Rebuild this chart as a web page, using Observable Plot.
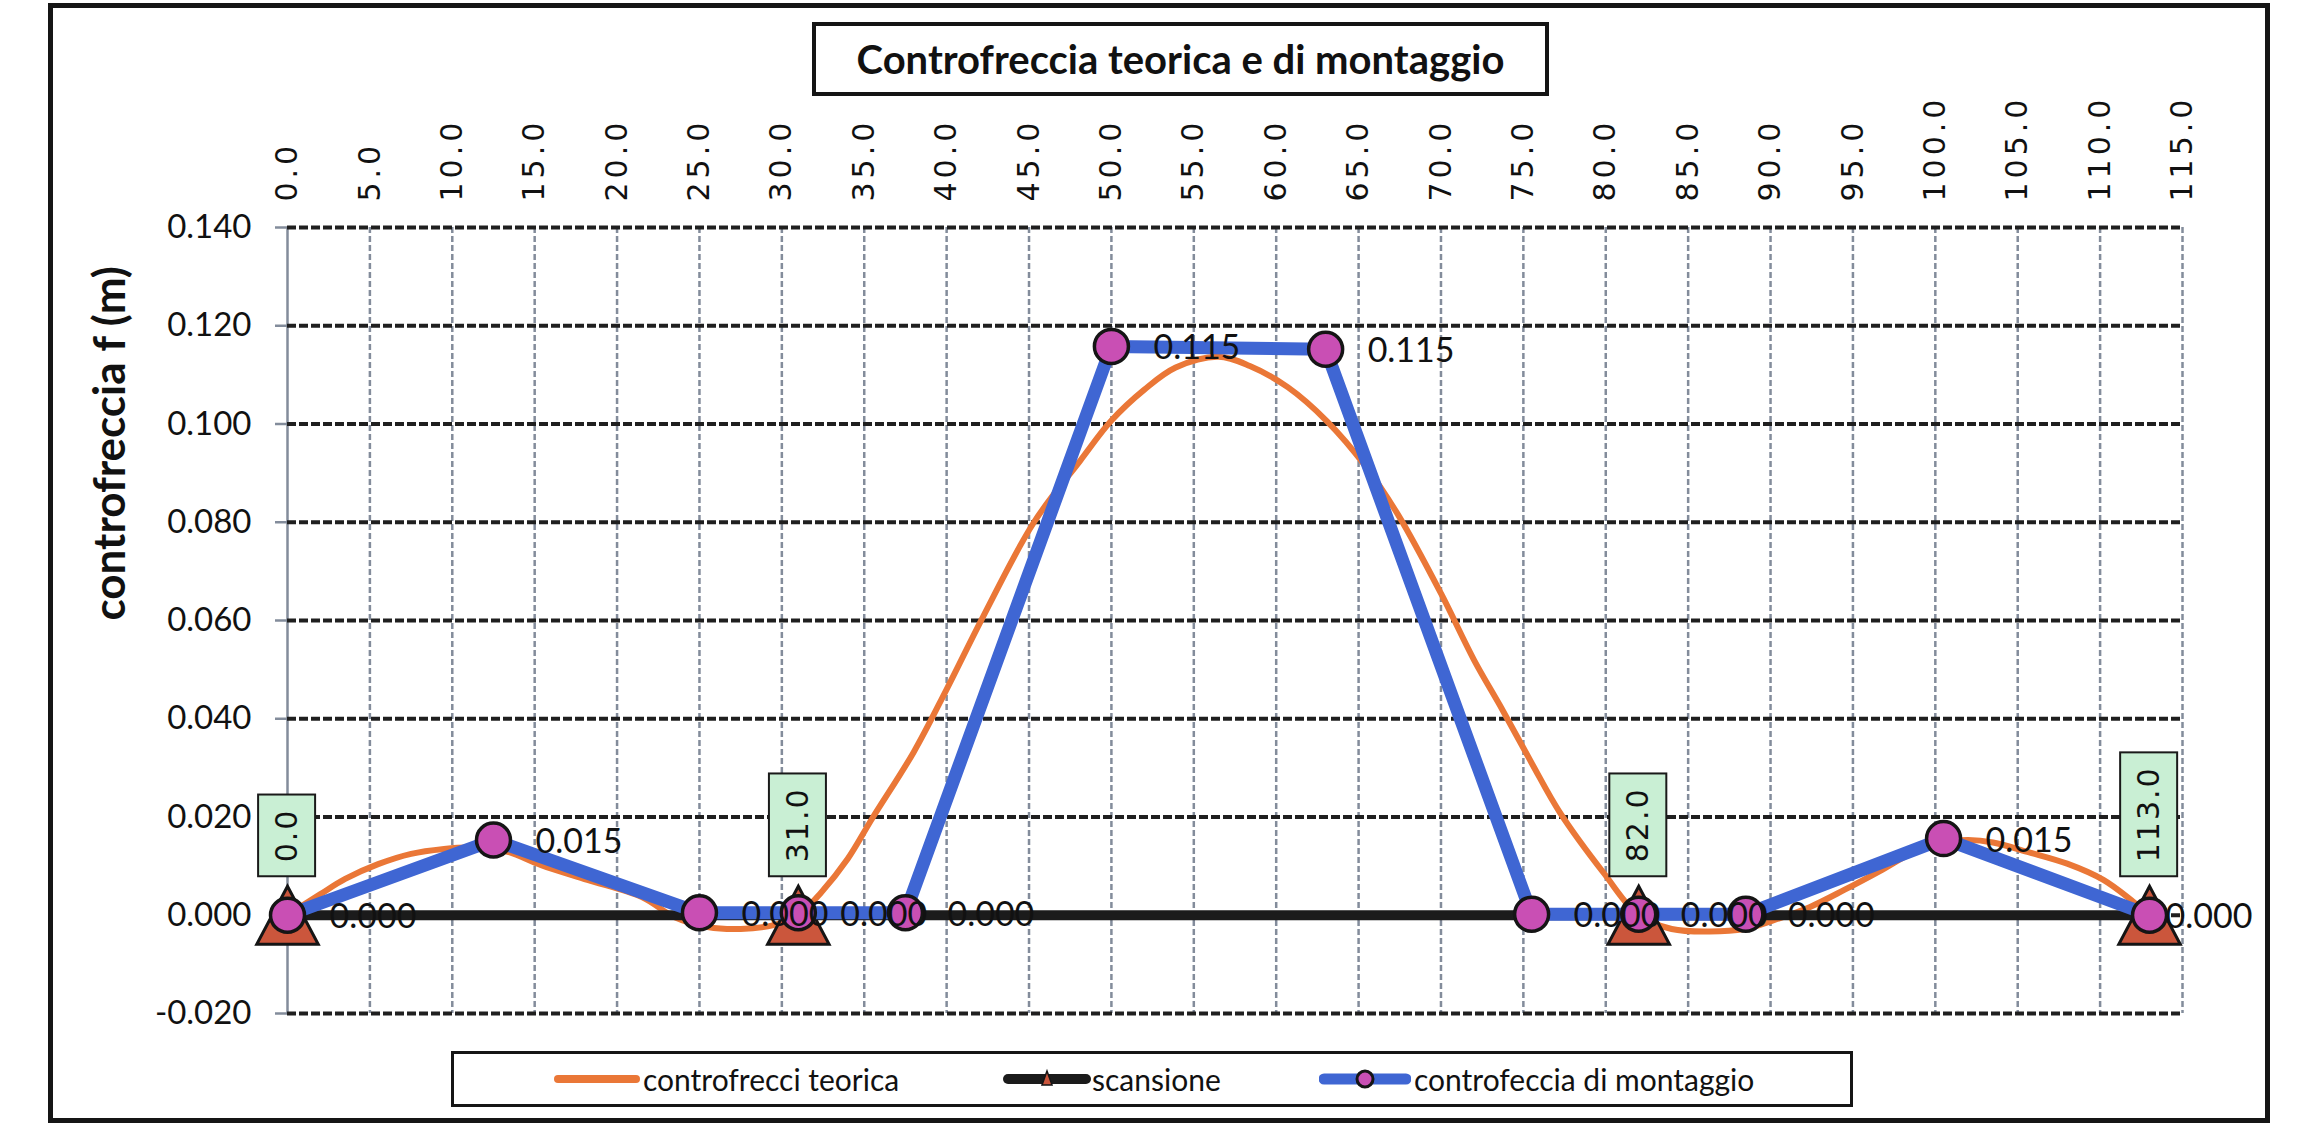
<!DOCTYPE html>
<html>
<head>
<meta charset="utf-8">
<script src="https://cdn.jsdelivr.net/npm/d3@7"></script>
<script src="https://cdn.jsdelivr.net/npm/@observablehq/plot@0.6"></script>
<style>
html, body { margin: 0; padding: 0; background: #fff; }
#root { position: relative; width: 2299px; height: 1146px; overflow: hidden; background: #fff; }
.abs { position: absolute; box-sizing: border-box; }
#plotHolder { left: 0; top: 0; width: 2299px; height: 1146px; }
#frame { left: 48px; top: 3px; width: 2222px; height: 1120px; border: 5px solid #151515; pointer-events: none; }
#title { left: 812px; top: 22px; width: 737px; height: 74px; border: 4px solid #151515; background: #fff;
  font: bold 40px Lato, sans-serif; color: #111; display: flex; align-items: center; justify-content: center; }
#legend { left: 451px; top: 1051px; width: 1402px; height: 56px; border: 3px solid #151515; background: #fff; }
.item { position: absolute; top: 0; height: 100%; display: flex; align-items: center; font: 30px Lato, sans-serif; color: #111; white-space: nowrap; }
.swatch { position: absolute; top: 0; height: 100%; }
</style>
</head>
<body>
<div id="root">
  <div id="plotHolder" class="abs"></div>
  <div id="frame" class="abs"></div>
  <div id="title" class="abs"></div>
  <div id="legend" class="abs"></div>
</div>
<script>
// ---------------- data ----------------
const titleText = "Controfreccia teorica e di montaggio";
const yTitle = "controfreccia f (m)";
const seriesNames = ["controfrecci teorica", "scansione", "controfeccia di montaggio"];

const xTicks = [0, 5, 10, 15, 20, 25, 30, 35, 40, 45, 50, 55, 60, 65, 70, 75, 80, 85, 90, 95, 100, 105, 110, 115];
const yTicks = [-0.02, 0, 0.02, 0.04, 0.06, 0.08, 0.10, 0.12, 0.14];

// theoretical camber (smoothed curve)
const teoricaX = [0, 2, 3.5, 5.5, 7.5, 9.5, 11, 12.5, 13.5, 15.4, 18.2, 21.5, 23.5, 25.5, 27.5, 29.5, 31, 32.4, 34, 35.5,
  38, 40, 42.2, 45.3, 48.1, 50, 52, 53.9, 56.5, 58.4, 60.7, 63.1, 65.4, 67.4, 70, 72, 73.7, 75.5, 77.2, 79.9,
  82, 84, 86.3, 88.4, 90.2, 92.4, 94.5, 96.8, 98.5, 100.4, 102, 103.5, 105.7, 108, 110.2, 112, 113];
const teoricaY = [0, 0.0043, 0.0074, 0.0104, 0.0125, 0.0135, 0.0138, 0.0135, 0.0128, 0.0102, 0.0072, 0.0037, -0.0004, -0.0024, -0.0028, -0.0020, 0, 0.0047, 0.0115, 0.0198,
  0.0332, 0.046, 0.0607, 0.080, 0.0925, 0.1007, 0.107, 0.1115, 0.1137, 0.1118, 0.1075, 0.1005, 0.0915, 0.0815, 0.0655, 0.052, 0.042, 0.031, 0.021, 0.0085,
  0, -0.0028, -0.0033, -0.0028, -0.001, 0.0017, 0.0052, 0.0093, 0.0125, 0.0148, 0.0153, 0.0148, 0.0128, 0.0105, 0.0072, 0.0028, 0];

// scansione (supports)
const scansioneX = [0, 31, 82, 113];
const scansioneY = [0, 0, 0, 0];

// controfreccia di montaggio
const montaggioX = [0, 12.5, 25, 31, 37.5, 50, 63, 75.5, 82, 88.5, 100.5, 113];
const montaggioY = [0, 0.0153, 0.0005, 0.0005, 0.0005, 0.1158, 0.1152, 0.0002, 0.0002, 0.0002, 0.0156, 0];
const montaggioLabels = ["0.000", "0.015", "0.000", "0.000", "0.000", "0.115", "0.115", "0.000", "0.000", "0.000", "0.015", "0.000"];

// ---------------- styles ----------------
const C = {
  orange: "#ea7737", black: "#1b1b1b", blue: "#3f66d3", magenta: "#c94fb4", tri: "#cb563c",
  vgrid: "#838c9b", hgrid: "#1f1f1f", box: "#c9efd4", ink: "#111"
};

const teorica = teoricaX.map((x, i) => ({x, y: teoricaY[i]}));
const scansione = scansioneX.map((x, i) => ({x, y: scansioneY[i], label: x.toFixed(1)}));
const montaggio = montaggioX.map((x, i) => ({x, y: montaggioY[i], label: montaggioLabels[i]}));

const triangle = {
  draw(ctx, size) {
    const r = Math.sqrt(size / Math.PI);
    ctx.moveTo(0, -r);
    ctx.lineTo(r * 1.06, r);
    ctx.lineTo(-r * 1.06, r);
    ctx.closePath();
  }
};

const plot = Plot.plot({
  width: 2299,
  height: 1146,
  marginLeft: 287,
  marginRight: 117,
  marginTop: 227,
  marginBottom: 133,
  x: {domain: [0, 115]},
  y: {domain: [-0.02, 0.14]},
  style: {fontFamily: "Lato, sans-serif", fontSize: "31px", background: "transparent", overflow: "visible", color: C.ink},
  marks: [
    Plot.ruleX(xTicks.filter(d => d > 0), {stroke: C.vgrid, strokeWidth: 2.5, strokeDasharray: "6,3"}),
    Plot.ruleX([0], {stroke: C.vgrid, strokeWidth: 2.5}),
    Plot.ruleY(yTicks, {stroke: C.hgrid, strokeWidth: 4, strokeDasharray: "9,3"}),
    Plot.axisY({ticks: yTicks, tickFormat: d => d.toFixed(3), tickSize: 12, tickPadding: 24, stroke: C.vgrid, strokeWidth: 2.5,
      label: null, fontSize: 33, fill: C.ink}),
    Plot.axisX({anchor: "top", ticks: xTicks, tickFormat: d => d.toFixed(1), tickRotate: -90, tickSize: 0, tickPadding: 26,
      label: null, fontFamily: "DejaVu Sans", fontSize: 30, fill: C.ink}),
    Plot.text([yTitle], {frameAnchor: "left", text: d => d, rotate: -90, dx: -177, fontWeight: "bold", fontSize: 44, fill: C.ink}),
    Plot.line(teorica, {x: "x", y: "y", stroke: C.orange, strokeWidth: 6, curve: "catmull-rom"}),
    Plot.line(scansione, {x: "x", y: "y", stroke: C.black, strokeWidth: 10}),
    Plot.dot(scansione, {x: "x", y: "y", symbol: triangle, r: 29, fill: C.tri, stroke: "#151515", strokeWidth: 3}),
    Plot.line(montaggio, {x: "x", y: "y", stroke: C.blue, strokeWidth: 13}),
    Plot.dot(montaggio, {x: "x", y: "y", r: 17, fill: C.magenta, stroke: "#151515", strokeWidth: 3.5}),
    Plot.text(montaggio.slice(0, -1), {x: "x", y: "y", text: "label", textAnchor: "start", dx: 42, dy: 2, fontSize: 34, fill: C.ink}),
    Plot.text(montaggio.slice(-1), {x: "x", y: "y", text: "label", textAnchor: "start", dx: 16, dy: 2, fontSize: 34, fill: C.ink}),
    Plot.text(scansione, {x: "x", y: "y", text: "label", rotate: -90, textAnchor: "start", dy: -53,
      fontFamily: "DejaVu Sans", fontSize: 30, fill: C.ink})
  ]
});

document.getElementById("plotHolder").appendChild(plot);

// letter spacing for the top axis labels (as in the original)
d3.select(plot).selectAll('g[aria-label="x-axis tick label"] text').style("letter-spacing", "4px");

// green boxes behind the scansione labels
const scLabels = new Set(scansione.map(d => d.label));
const svgns = "http://www.w3.org/2000/svg";
d3.select(plot).selectAll('g[aria-label="text"] text').each(function () {
  if (!scLabels.has(this.textContent)) return;
  this.style.letterSpacing = "2px";
  const bb = this.getBBox();
  const r = document.createElementNS(svgns, "rect");
  const padL = 14, padW = 11;
  r.setAttribute("x", bb.x - padL);
  r.setAttribute("y", bb.y - padW);
  r.setAttribute("width", bb.width + 2 * padL);
  r.setAttribute("height", bb.height + 2 * padW);
  const t = this.getAttribute("transform");
  if (t) r.setAttribute("transform", t);
  r.setAttribute("fill", C.box);
  r.setAttribute("stroke", "#1a1a1a");
  r.setAttribute("stroke-width", 2);
  this.parentNode.insertBefore(r, this);
});

// title
document.getElementById("title").textContent = titleText;

// legend
const legend = document.getElementById("legend");
function addItem(left, swatchSvg, swW, textLeft, label) {
  const s = document.createElement("div");
  s.className = "swatch";
  s.style.left = left + "px";
  s.style.width = swW + "px";
  s.innerHTML = swatchSvg;
  legend.appendChild(s);
  const t = document.createElement("div");
  t.className = "item";
  t.style.left = textLeft + "px";
  t.textContent = label;
  legend.appendChild(t);
}
const H = 50, mid = 25;
addItem(100, `<svg width="86" height="${H}"><line x1="4" x2="82" y1="${mid}" y2="${mid}" stroke="${C.orange}" stroke-width="8" stroke-linecap="round"/></svg>`, 86, 189, seriesNames[0]);
addItem(549, `<svg width="88" height="${H}"><line x1="5" x2="83" y1="${mid}" y2="${mid}" stroke="${C.black}" stroke-width="10" stroke-linecap="round"/>
  <path d="M44,${mid - 8} L49,${mid + 6} L39,${mid + 6} Z" fill="${C.tri}" stroke="#151515" stroke-width="1.5"/></svg>`, 88, 638, seriesNames[1]);
addItem(865, `<svg width="92" height="${H}"><line x1="5" x2="87" y1="${mid}" y2="${mid}" stroke="${C.blue}" stroke-width="11" stroke-linecap="round"/>
  <circle cx="46" cy="${mid}" r="8" fill="${C.magenta}" stroke="#151515" stroke-width="3"/></svg>`, 92, 960, seriesNames[2]);
</script>
</body>
</html>
